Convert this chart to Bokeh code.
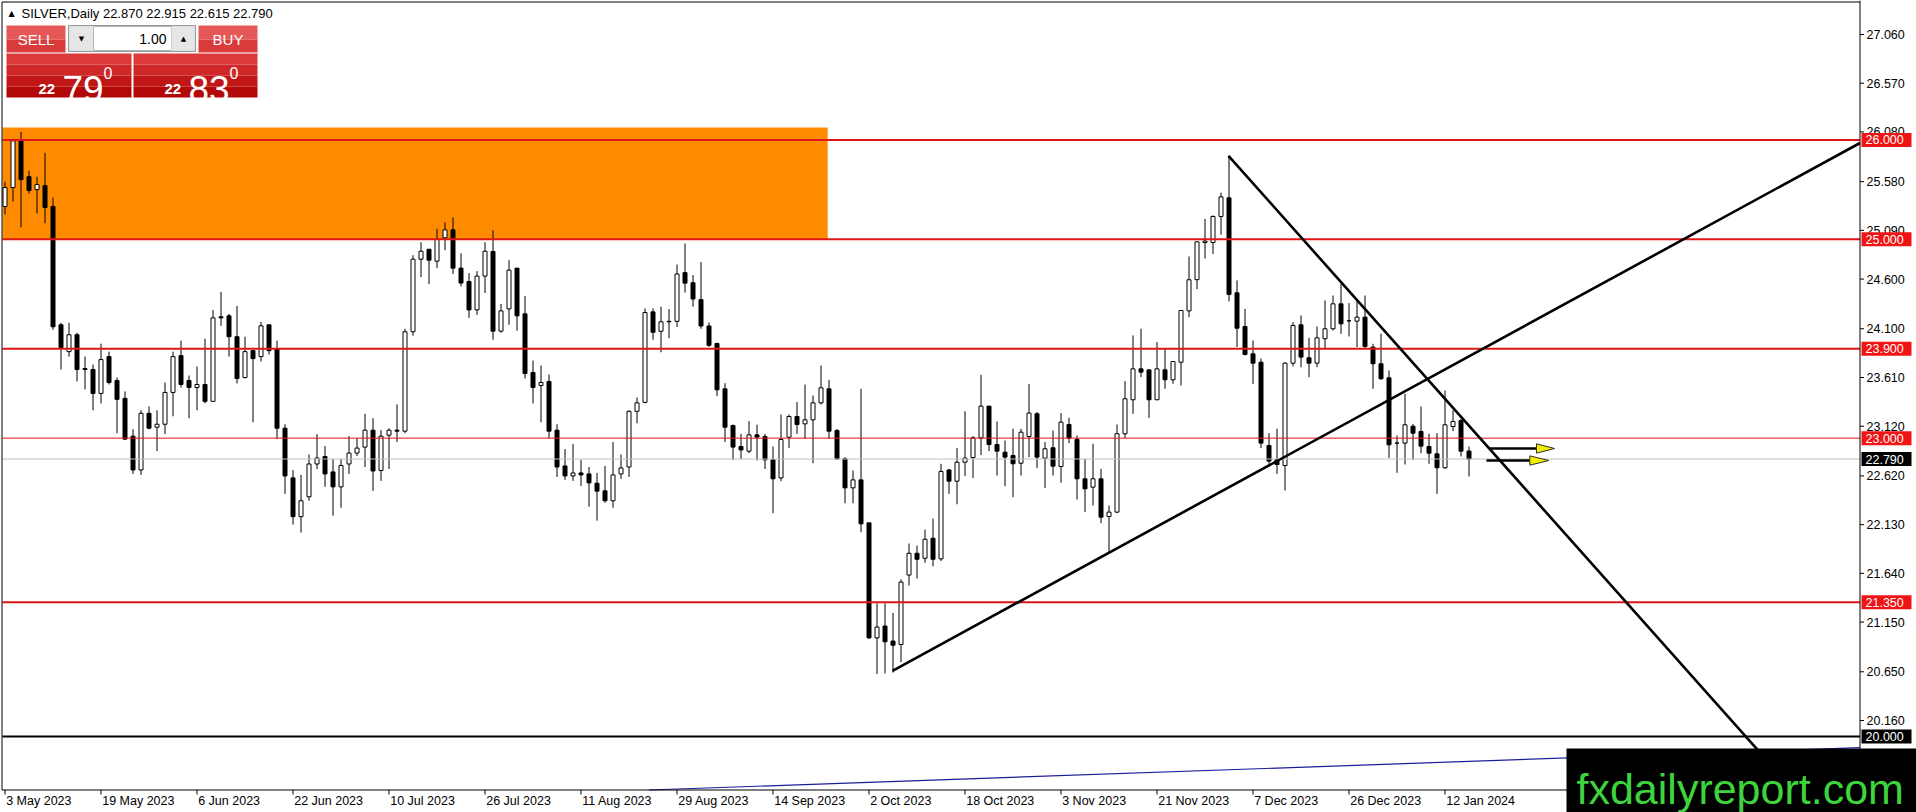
# SILVER daily, MT4 style chart with levels and trend lines
import numpy as np
from bokeh.plotting import figure
from bokeh.models import Range1d
from bokeh.core.properties import value
from bokeh.embed import file_html
from bokeh.resources import INLINE

# daily OHLC, one entry per trading day starting 3 May 2023
opens = [25.33, 25.52, 25.99, 25.63, 25.50, 25.54, 25.33, 24.14, 23.87, 24.04,
         23.70, 23.69, 23.45, 23.82, 23.58, 23.40, 23.02, 22.68, 23.25, 23.11,
         23.14, 23.46, 23.83, 23.58, 23.51, 23.54, 23.37, 24.22, 24.23, 24.02,
         23.61, 23.88, 23.82, 24.14, 23.90, 23.10, 22.60, 22.21, 22.41, 22.74,
         22.815, 22.66, 22.51, 22.74, 22.85, 22.91, 23.08, 22.675, 23.03, 23.08,
         23.07, 24.07, 24.80, 24.90, 24.78, 25.015, 25.095, 24.71, 24.575, 24.29,
         24.63, 24.877, 24.076, 24.30, 24.71, 24.25, 23.66, 23.53, 23.57, 23.08,
         22.72, 22.62, 22.65, 22.64, 22.547, 22.47, 22.37, 22.64, 22.71, 23.27,
         23.36, 24.27, 24.075, 24.175, 24.175, 24.665, 24.563, 24.393, 24.128, 23.952,
         23.496, 23.127, 22.916, 22.869, 23.033, 23.016, 22.782, 22.60, 23.009, 23.218,
         23.144, 23.184, 23.355, 23.496, 23.077, 22.792, 22.50, 22.58, 22.148, 20.991,
         21.11, 20.959, 20.924, 21.623, 21.842, 21.792, 21.993, 21.786, 22.68, 22.567,
         22.758, 22.805, 23.003, 23.322, 22.936, 22.859, 22.826, 22.748, 23.017, 23.245,
         22.799, 22.903, 22.715, 23.137, 22.987, 22.591, 22.507, 22.591, 22.212, 22.256,
         23.044, 23.386, 23.697, 23.687, 23.386, 23.687, 23.587, 23.764, 24.28, 24.594,
         24.968, 24.968, 25.23, 25.417, 24.462, 24.123, 23.848, 23.764, 22.926, 22.782,
         22.725, 23.754, 24.14, 23.808, 23.754, 24.0, 24.10, 24.351, 24.18, 24.177,
         24.217, 23.915, 23.748, 23.607, 22.95, 22.95, 23.12, 23.067, 22.916, 22.842,
         22.702, 23.117, 23.177, 22.870]
highs = [25.58, 26.01, 26.08, 25.69, 25.63, 25.87, 25.42, 24.16, 24.16, 24.06,
         23.82, 23.74, 23.95, 23.87, 23.61, 23.47, 23.09, 23.28, 23.32, 23.28,
         23.56, 23.87, 23.98, 23.63, 23.72, 24.00, 24.29, 24.47, 24.25, 24.33,
         24.02, 23.88, 24.17, 24.14, 23.98, 23.14, 22.68, 22.63, 22.835, 23.04,
         22.92, 22.79, 22.79, 23.02, 23.00, 23.245, 23.20, 23.08, 23.10, 23.34,
         24.10, 24.84, 24.97, 24.90, 25.105, 25.17, 25.22, 24.86, 24.66, 24.68,
         24.97, 25.09, 24.35, 24.79, 24.71, 24.43, 23.78, 23.73, 23.64, 23.14,
         22.89, 22.94, 22.78, 22.71, 22.65, 22.72, 22.96, 22.835, 23.28, 23.41,
         24.305, 24.305, 24.322, 24.298, 24.746, 24.958, 24.64, 24.771, 24.164, 23.96,
         23.553, 23.137, 23.043, 23.171, 23.134, 23.043, 22.916, 23.238, 23.238, 23.362,
         23.539, 23.429, 23.73, 23.586, 23.093, 22.808, 22.674, 23.496, 22.148, 21.34,
         21.34, 21.241, 21.58, 21.94, 21.92, 22.081, 22.19, 22.742, 22.69, 22.90,
         23.27, 23.02, 23.637, 23.322, 23.168, 22.976, 23.094, 23.094, 23.546, 23.262,
         22.96, 23.077, 23.252, 23.205, 23.027, 22.792, 22.943, 22.691, 22.323, 23.137,
         23.573, 24.033, 24.10, 23.687, 23.966, 23.899, 23.771, 24.284, 24.827, 24.975,
         25.205, 25.24, 25.47, 25.84, 24.587, 24.30, 23.982, 23.80, 23.05, 23.094,
         23.764, 24.167, 24.234, 24.009, 24.123, 24.385, 24.435, 24.552, 24.358, 24.385,
         24.435, 23.949, 24.05, 23.681, 23.027, 23.446, 23.144, 23.318, 23.044, 23.05,
         23.479, 23.278, 23.194, 22.915]
lows = [25.25, 25.38, 25.12, 25.46, 25.26, 25.16, 24.09, 23.69, 23.82, 23.57,
        23.49, 23.28, 23.35, 23.54, 23.05, 22.98, 22.64, 22.63, 23.09, 22.87,
        23.04, 23.22, 23.51, 23.20, 23.28, 23.35, 23.37, 24.13, 23.82, 23.55,
        23.60, 23.16, 23.77, 23.84, 22.99, 22.44, 22.13, 22.05, 22.37, 22.69,
        22.51, 22.22, 22.30, 22.64, 22.82, 22.71, 22.47, 22.57, 22.69, 22.96,
        23.05, 24.03, 24.62, 24.55, 24.71, 24.89, 24.65, 24.525, 24.21, 24.24,
        24.46, 23.99, 24.06, 24.14, 24.08, 23.60, 23.35, 23.16, 23.00, 22.61,
        22.58, 22.57, 22.52, 22.31, 22.17, 22.35, 22.30, 22.59, 22.61, 23.15,
        23.35, 23.99, 23.864, 24.005, 24.118, 24.464, 24.322, 24.10, 23.917, 23.423,
        22.96, 22.78, 22.79, 22.849, 22.775, 22.69, 22.245, 22.567, 22.90, 23.043,
        22.993, 22.748, 23.338, 22.993, 22.782, 22.346, 22.346, 22.054, 20.981, 20.627,
        20.634, 20.642, 20.747, 21.517, 21.587, 21.746, 21.711, 21.764, 22.44, 22.335,
        22.62, 22.60, 22.83, 22.87, 22.624, 22.517, 22.406, 22.624, 22.809, 22.698,
        22.499, 22.624, 22.551, 22.95, 22.383, 22.256, 22.323, 22.145, 21.845, 22.246,
        23.0, 23.245, 23.614, 23.204, 23.386, 23.496, 23.547, 23.53, 24.217, 24.499,
        24.806, 24.852, 25.046, 24.375, 23.917, 23.832, 23.546, 22.90, 22.742, 22.641,
        22.474, 23.721, 23.714, 23.613, 23.714, 23.898, 24.083, 24.05, 24.023, 23.915,
        23.909, 23.496, 23.587, 22.802, 22.651, 22.735, 22.782, 22.849, 22.742, 22.44,
        22.692, 23.07, 22.816, 22.615]
closes = [25.52, 25.99, 25.60, 25.49, 25.55, 25.32, 24.12, 23.91, 24.04, 23.69,
          23.69, 23.45, 23.79, 23.56, 23.39, 22.99, 22.68, 23.25, 23.10, 23.14,
          23.46, 23.82, 23.54, 23.51, 23.54, 23.37, 24.21, 24.21, 24.02, 23.60,
          23.87, 23.80, 24.13, 23.88, 23.10, 22.62, 22.21, 22.37, 22.74, 22.80,
          22.64, 22.51, 22.725, 22.85, 22.90, 23.08, 22.67, 23.02, 23.08, 23.07,
          24.07, 24.80, 24.88, 24.79, 25.00, 25.095, 24.71, 24.56, 24.29, 24.63,
          24.88, 24.076, 24.28, 24.69, 24.23, 23.65, 23.51, 23.56, 23.07, 22.71,
          22.62, 22.65, 22.63, 22.55, 22.467, 22.37, 22.63, 22.70, 23.27, 23.355,
          24.263, 24.065, 24.17, 24.17, 24.651, 24.559, 24.40, 24.128, 23.934, 23.486,
          23.11, 22.91, 22.882, 23.033, 23.01, 22.782, 22.591, 22.986, 23.218, 23.137,
          23.184, 23.355, 23.506, 23.07, 22.792, 22.50, 22.58, 22.138, 20.991, 21.10,
          20.952, 20.917, 21.552, 21.842, 21.782, 21.983, 21.782, 22.665, 22.567, 22.758,
          22.799, 23.003, 23.322, 22.936, 22.869, 22.809, 22.742, 23.06, 23.252, 22.809,
          22.893, 22.718, 23.161, 23.0, 22.591, 22.49, 22.591, 22.205, 22.256, 23.044,
          23.396, 23.697, 23.664, 23.386, 23.697, 23.587, 23.771, 24.284, 24.593, 24.975,
          24.982, 25.23, 25.427, 24.446, 24.106, 23.842, 23.754, 22.95, 22.769, 22.735,
          23.754, 24.133, 23.815, 23.754, 24.009, 24.10, 24.351, 24.15, 24.18, 24.217,
          23.922, 23.748, 23.597, 22.933, 22.95, 23.134, 23.05, 22.92, 22.849, 22.702,
          23.134, 23.167, 22.869, 22.790]

# time scale: a label every 12 bars
tick_bars = [0, 12, 24, 36, 48, 60, 72, 84, 96, 108, 120, 132, 144, 156, 168, 180]
tick_labels = ["3 May 2023", "19 May 2023", "6 Jun 2023", "22 Jun 2023", "10 Jul 2023",
               "26 Jul 2023", "11 Aug 2023", "29 Aug 2023", "14 Sep 2023", "2 Oct 2023",
               "18 Oct 2023", "3 Nov 2023", "21 Nov 2023", "7 Dec 2023", "26 Dec 2023",
               "12 Jan 2024"]
price_ticks = [27.06, 26.57, 26.08, 25.58, 25.09, 24.60, 24.10, 23.61, 23.12,
               22.62, 22.13, 21.64, 21.15, 20.65, 20.16]

# drawn objects
red_levels = [26.0, 25.0, 23.9, 23.0, 21.35]
red_widths = [2, 2, 2, 1, 2]
black_level = 20.0
bid_price = 22.79
zone = dict(right=102.9, top=26.125, bottom=25.0)
up_trend = [(111, 20.66), (231.9, 25.967)]
down_trend = [(153, 25.84), (212, 20.51)]
blue_trend = [(87, 19.479), (174.5, 19.725)]
arrow_start = [185.54, 185.25]
arrow_base = [191.5, 190.66]
arrow_tip = [193.75, 193.04]
arrow_price = [22.896, 22.775]

header = "SILVER,Daily  22.870 22.915 22.615 22.790"
lot = "1.00"
sell_quote = ("22", "79", "0")
buy_quote = ("22", "83", "0")

# terminal pixel grid: 8 px per bar, ~99.4 px per dollar
def bx(px):
    return (px - 4) / 8.0

def py(px):
    return 27.06 - (px - 34) / 99.42

NUDGE = 1 / 16.0          # puts 1px lines on pixel centres
FONT = "Liberation Sans"
CHART_R = bx(1859.5)      # right edge of the price area
CHART_B = py(789.5)       # bottom edge of the price area

p = figure(width=1916, height=812, output_backend="svg", toolbar_location=None,
           x_range=Range1d(bx(0), bx(1916)), y_range=Range1d(py(812), py(0)),
           x_axis_location=None, y_axis_location=None,
           min_border_left=0, min_border_right=0, min_border_top=0, min_border_bottom=0)
p.grid.visible = False
p.outline_line_color = None
p.background_fill_color = "white"
p.border_fill_color = "white"

def txt(x, y, s, size, color="black", align="left", baseline="middle", style="normal", font=FONT):
    p.text(x=x, y=y, text=s, text_font=value(font), text_font_size=size,
           text_color=color, text_align=align, text_baseline=baseline, text_font_style=style)

# orange supply zone (background)
p.quad(left=[bx(2)], right=[zone["right"]], top=[zone["top"]], bottom=[zone["bottom"]],
       fill_color="#ff8c00", line_color=None)

# candles
o = np.array(opens)
h = np.array(highs)
l = np.array(lows)
c = np.array(closes)
x = np.arange(len(c)) + NUDGE
bull = c >= o
p.segment(x, h, x, l, line_color="black", line_width=1)
p.vbar(x=x[bull], bottom=o[bull], top=c[bull], width=0.5, fill_color="white", line_color="black")
p.vbar(x=x[~bull], bottom=c[~bull], top=o[~bull], width=0.5, fill_color="black", line_color="black")

# horizontal levels
left_edge = bx(2)
p.segment([left_edge] * len(red_levels), red_levels, [CHART_R] * len(red_levels), red_levels,
          line_color="#e01515", line_width=red_widths)
p.segment([left_edge], [bid_price], [CHART_R], [bid_price], line_color="#c0c0c0", line_width=1)
p.segment([left_edge], [black_level], [CHART_R], [black_level], line_color="black", line_width=2)

def on_line(pts, xv):
    (ax, ay), (bx_, by) = pts
    return ay + (by - ay) / (bx_ - ax) * (xv - ax)

def x_at(pts, yv):
    (ax, ay), (bx_, by) = pts
    return ax + (yv - ay) * (bx_ - ax) / (by - ay)

p.line([up_trend[0][0], CHART_R], [up_trend[0][1], on_line(up_trend, CHART_R)],
       line_color="black", line_width=2.6)
end_x = x_at(down_trend, CHART_B)
p.line([down_trend[0][0], end_x], [down_trend[0][1], CHART_B], line_color="black", line_width=2.6)
start_x = x_at(blue_trend, CHART_B)
p.line([start_x, CHART_R], [CHART_B, on_line(blue_trend, CHART_R)], line_color="#1c1c9a", line_width=1.2)

# arrows
head = 0.047
p.segment(arrow_start, arrow_price, arrow_base, arrow_price, line_color="black", line_width=2.5)
p.patches([[b, t, b] for b, t in zip(arrow_base, arrow_tip)],
          [[y + head, y, y - head] for y in arrow_price],
          fill_color="#f0f000", line_color="#303030", line_width=1)

# chart frame and scales
p.segment([bx(1.5), bx(1.5), CHART_R, bx(1.5)], [py(1.5), py(1.5), py(0), CHART_B],
          [CHART_R, bx(1.5), CHART_R, CHART_R], [py(1.5), CHART_B, py(812), CHART_B],
          line_color="black", line_width=1)
p.segment([CHART_R] * len(price_ticks), price_ticks, [bx(1863.5)] * len(price_ticks), price_ticks,
          line_color="black", line_width=1)
txt([bx(1866)] * len(price_ticks), price_ticks, ["%.3f" % t for t in price_ticks], "12.5px")
tx = np.array(tick_bars) + NUDGE
p.segment(tx, [CHART_B] * len(tx), tx, [py(794)] * len(tx), line_color="black", line_width=1)
txt(list(tx + 0.15), [py(800)] * len(tx), tick_labels, "12.5px")

# price tags on the scale
tag_half = 7 / 99.42
tags = red_levels + [bid_price, black_level]
tag_colors = ["#f01414"] * len(red_levels) + ["black", "black"]
p.quad(left=[bx(1861)] * len(tags), right=[bx(1911)] * len(tags),
       top=[t + tag_half for t in tags], bottom=[t - tag_half for t in tags],
       fill_color=tag_colors, line_color=None)
txt([bx(1865)] * len(tags), tags, ["%.3f" % t for t in tags], "12.5px", color="white")

# one-click trading panel
boxes = [  # page px: x0, y0, x1, y1, fill, line
    (6, 25, 65, 39, "#e65858", None), (6, 39, 65, 52, "#d93a3a", None),
    (198, 25, 257, 39, "#e65858", None), (198, 39, 257, 52, "#d93a3a", None),
    (6, 53, 131, 64, "#dc3a3a", None), (6, 64, 131, 75, "#cf2828", None),
    (6, 75, 131, 86, "#c11616", None), (6, 86, 131, 97, "#b20808", None),
    (133, 53, 257, 64, "#dc3a3a", None), (133, 64, 257, 75, "#cf2828", None),
    (133, 75, 257, 86, "#c11616", None), (133, 86, 257, 97, "#b20808", None),
    (68, 25, 195, 51, "#d8d8d8", "#9a9a9a"),
    (69, 26, 93, 50, "#e6e6e6", None), (93, 26, 171, 50, "white", "#b4b4b4"),
    (171, 26, 194, 50, "#e6e6e6", None),
]
p.quad(left=[bx(b[0]) for b in boxes], right=[bx(b[2]) for b in boxes],
       top=[py(b[1]) for b in boxes], bottom=[py(b[3]) for b in boxes],
       fill_color=[b[4] for b in boxes], line_color=[b[5] for b in boxes])
p.segment([bx(10), bx(202)], [py(52.5)] * 2, [bx(62), bx(254)], [py(52.5)] * 2,
          line_color="#f2a8a8", line_width=1)

txt([bx(11)], [py(13)], ["\u25b2"], "8px", align="center", font="DejaVu Sans")
txt([bx(21)], [py(13)], [header], "13px")
txt([bx(35.5), bx(227.5)], [py(39)] * 2, ["SELL", "BUY"], "15px", color="white", align="center")
txt([bx(166)], [py(38)], [lot], "14px", align="right")
txt([bx(81), bx(183)], [py(38)] * 2, ["\u25bc", "\u25b2"], "7px", align="center", font="DejaVu Sans")
for left, quote in ((38, sell_quote), (164, buy_quote)):
    txt([bx(left)], [py(88)], [quote[0]], "15px", color="white", baseline="alphabetic", style="bold")
    txt([bx(left + 24)], [py(88)], [quote[1]], "37px", color="white", baseline="alphabetic")
    txt([bx(left + 65)], [py(72)], [quote[2]], "16px", color="white", baseline="alphabetic")

# watermark
p.quad(left=[bx(1566)], right=[bx(1916)], top=[py(748)], bottom=[py(812)],
       fill_color="black", line_color=None)
txt([bx(1576)], [py(788)], ["fxdailyreport.com"], "43px", color="#3ed43e", baseline="alphabetic")

open("out.html", "w").write(file_html(p, INLINE))
